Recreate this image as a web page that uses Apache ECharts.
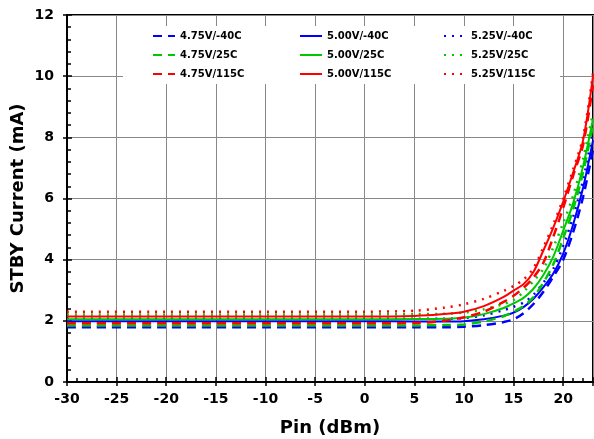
<!DOCTYPE html>
<html>
<head>
<meta charset="utf-8">
<script src="https://cdn.jsdelivr.net/npm/echarts@6/dist/echarts.min.js"></script>
<style>
  html, body { margin: 0; padding: 0; background: #fff; }
  #chart { width: 594px; height: 439px; }
</style>
</head>
<body>
<div id="chart"></div>
<script>
// Pin (dBm) sample points shared by all curves
const pinValues = [-30, -20, -10, 0, 5, 8, 10, 12, 14, 15, 16, 17, 18, 19, 20, 21, 22, 23]

// STBY current (mA)
const v475m40 = [1.79, 1.79, 1.79, 1.79, 1.79, 1.79, 1.81, 1.86, 1.96, 2.05, 2.25, 2.55, 2.95, 3.45, 4.0, 4.9, 6.05, 7.6]
const v500m40 = [1.99, 1.99, 1.99, 1.99, 1.98, 1.98, 1.99, 2.05, 2.17, 2.27, 2.45, 2.72, 3.1, 3.55, 4.2, 5.15, 6.35, 7.9]
const v525m40 = [2.07, 2.07, 2.07, 2.07, 2.07, 2.07, 2.09, 2.18, 2.35, 2.46, 2.6, 2.85, 3.25, 3.7, 4.45, 5.4, 6.6, 8.2]
const v475t25 = [1.85, 1.85, 1.85, 1.85, 1.85, 1.86, 1.88, 1.98, 2.15, 2.3, 2.48, 2.78, 3.25, 3.85, 4.7, 5.65, 6.85, 8.4]
const v500t25 = [2.05, 2.05, 2.05, 2.05, 2.06, 2.07, 2.10, 2.22, 2.42, 2.57, 2.75, 3.05, 3.5, 4.1, 4.95, 5.85, 7.05, 8.6]
const v525t25 = [2.21, 2.21, 2.21, 2.21, 2.22, 2.23, 2.27, 2.38, 2.55, 2.68, 2.95, 3.3, 3.7, 4.4, 5.2, 6.1, 7.3, 8.8]
const v475t115 = [1.92, 1.92, 1.92, 1.92, 1.93, 2.0, 2.12, 2.3, 2.62, 2.82, 3.08, 3.42, 3.9, 4.75, 5.7, 6.75, 7.75, 9.7]
const v500t115 = [2.14, 2.14, 2.14, 2.14, 2.16, 2.22, 2.30, 2.48, 2.78, 2.99, 3.2, 3.6, 4.3, 5.05, 5.9, 6.85, 7.9, 10.0]
const v525t115 = [2.30, 2.30, 2.30, 2.30, 2.33, 2.43, 2.54, 2.72, 2.98, 3.14, 3.35, 3.72, 4.4, 5.15, 6.0, 6.95, 8.0, 10.1]

const FONT = 'DejaVu Sans'
const BLUE = '#0000ff'
const GREEN = '#00c800'
const RED = '#ff0000'

const DASHED = [9, 6]
const DOTTED = [2, 6]

// name, values, color, dash, width
const curves = [
  ['4.75V/-40C', v475m40, BLUE, DASHED, 2.5],
  ['5.00V/-40C', v500m40, BLUE, 'solid', 2],
  ['5.25V/-40C', v525m40, BLUE, DOTTED, 2.5],
  ['4.75V/25C', v475t25, GREEN, DASHED, 2.5],
  ['5.00V/25C', v500t25, GREEN, 'solid', 2],
  ['5.25V/25C', v525t25, GREEN, DOTTED, 2.5],
  ['4.75V/115C', v475t115, RED, DASHED, 2.5],
  ['5.00V/115C', v500t115, RED, 'solid', 2],
  ['5.25V/115C', v525t115, RED, DOTTED, 2.5],
]

const chart = echarts.init(document.getElementById('chart'))

const legendCol = (names, left) => ({
  orient: 'vertical',
  left: left,
  top: 26,
  itemWidth: 22,
  itemHeight: 10,
  itemGap: 9,
  data: names,
  itemStyle: { color: 'rgba(0,0,0,0)', borderWidth: 0, opacity: 0 },
  textStyle: { fontFamily: FONT, fontWeight: 'bold', fontSize: 10, color: '#000' },
  z: 5,
})

chart.setOption({
  animation: false,
  backgroundColor: '#fff',
  grid: {
    left: 67, right: 1, top: 15, bottom: 57,
    outerBoundsMode: 'none',
    show: true, borderColor: '#000', borderWidth: 2,
  },
  graphic: [{
    type: 'rect', left: 123, top: 26, z: 1,
    shape: { width: 437, height: 58 },
    style: { fill: '#fff' },
  }],
  legend: [
    legendCol(['4.75V/-40C', '4.75V/25C', '4.75V/115C'], 147),
    legendCol(['5.00V/-40C', '5.00V/25C', '5.00V/115C'], 294),
    legendCol(['5.25V/-40C', '5.25V/25C', '5.25V/115C'], 438),
  ],
  xAxis: [{
    type: 'value', min: -30, max: 23, interval: 5,
    name: 'Pin (dBm)', nameLocation: 'middle', nameGap: 37,
    nameTextStyle: { fontFamily: FONT, fontWeight: 'bold', fontSize: 18, color: '#000' },
    axisLine: { onZero: false, lineStyle: { color: '#000', width: 2 } },
    axisTick: { inside: true, length: 5, lineStyle: { color: '#000', width: 1.5 } },
    minorTick: { show: true, splitNumber: 5, length: 4, lineStyle: { color: '#000', width: 1.5 } },
    axisLabel: { fontFamily: FONT, fontWeight: 'bold', fontSize: 14, color: '#000', margin: 10, showMaxLabel: false },
    splitLine: { show: true, lineStyle: { color: '#888', width: 1 } },
  }, {
    type: 'value', min: -30, max: 23, interval: 5, position: 'bottom',
    axisLine: { show: false, onZero: false },
    axisTick: { inside: false, length: 4, lineStyle: { color: '#000', width: 1.5 } },
    axisLabel: { show: false },
    splitLine: { show: false },
  }],
  yAxis: [{
    type: 'value', min: 0, max: 12, interval: 2,
    name: 'STBY Current (mA)', nameLocation: 'middle', nameGap: 40, nameMoveOverlap: false,
    nameTextStyle: { fontFamily: FONT, fontWeight: 'bold', fontSize: 18, color: '#000' },
    axisLine: { onZero: false, lineStyle: { color: '#000', width: 2 } },
    axisTick: { inside: true, length: 5, lineStyle: { color: '#000', width: 1.5 } },
    minorTick: { show: true, splitNumber: 5, length: 4, lineStyle: { color: '#000', width: 1.5 } },
    axisLabel: { fontFamily: FONT, fontWeight: 'bold', fontSize: 14, color: '#000', margin: 13 },
    splitLine: { show: true, lineStyle: { color: '#888', width: 1 } },
  }, {
    type: 'value', min: 0, max: 12, interval: 2, position: 'left',
    axisLine: { show: false, onZero: false },
    axisTick: { show: true, inside: false, length: 4, lineStyle: { color: '#000', width: 1.5 } },
    axisLabel: { show: false },
    splitLine: { show: false },
  }],
  series: curves.map(([name, vals, color, dash, width]) => ({
    name: name,
    type: 'line',
    xAxisIndex: 0,
    yAxisIndex: 0,
    data: pinValues.map((x, i) => [x, vals[i]]),
    smooth: 0.3,
    showSymbol: false,
    symbol: 'none',
    color: color,
    lineStyle: { color: color, type: dash, width: width },
    z: 3,
  })),
})
</script>
</body>
</html>
